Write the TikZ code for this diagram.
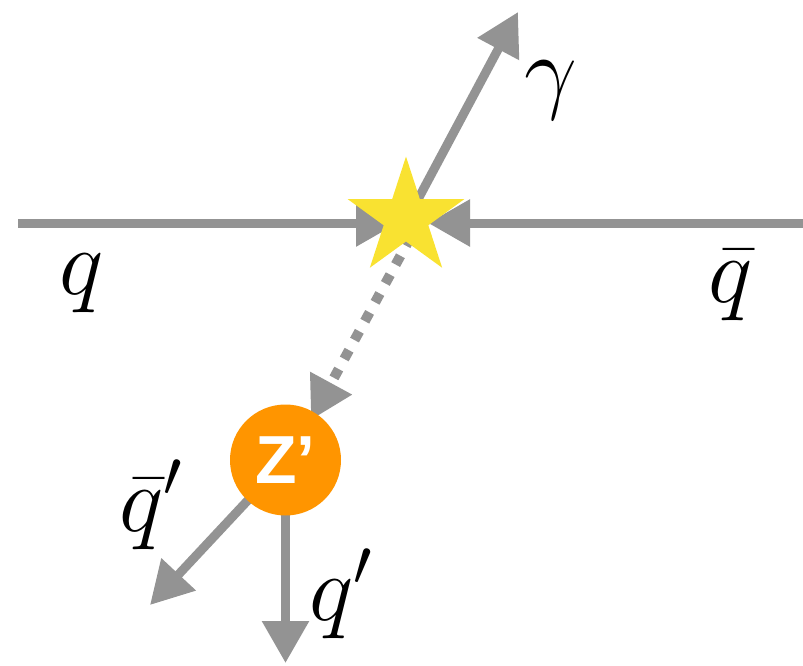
\RequirePackage{fix-cm}
\documentclass[tikz,border=0pt]{standalone}
\usepackage{fontspec}
\newfontfamily\zfont{Liberation Sans}
\usetikzlibrary{arrows.meta,shapes.geometric}
\definecolor{linegray}{RGB}{147,147,147}
\definecolor{staryellow}{RGB}{249,226,49}
\definecolor{zorange}{RGB}{255,149,0}
\tikzset{
  arr/.style={draw=linegray, line width=9pt, -{Triangle[length=42pt,width=45pt]}},
  dotarr/.style={arr, line width=10pt, dash pattern=on 10pt off 11.5pt},
  lbl/.style={anchor=base, inner sep=0pt, font=\fontsize{94}{100}\selectfont}
}
\begin{document}
\begin{tikzpicture}[x=1pt,y=-1pt]
\useasboundingbox (0,0) rectangle (803,665);
% coordinates
\coordinate (qL) at (18,223);
\coordinate (tipL) at (398,223);
\coordinate (qR) at (803,223);
\coordinate (tipR) at (428,223);
\coordinate (gTip) at (518,12);
\coordinate (dTip) at (311,420);
\coordinate (aTip) at (150,605);
\coordinate (bTip) at (285.5,663);
\coordinate (sc) at (406,218);
\coordinate (zc) at (285.5,460);
% lines
\draw[arr] (qL) -- (tipL);
\draw[arr] (qR) -- (tipR);
\draw[arr] ([xshift=2pt]sc) -- (gTip);
\draw[dotarr] ([xshift=15pt]sc) -- (dTip);
\draw[arr] (zc) -- (aTip);
\draw[arr] (zc) -- (bTip);
% star
\node[star, star points=5, star point ratio=2.618, minimum size=123pt, inner sep=0pt, fill=staryellow] (star) at (sc) {};
% Z' circle
\node[circle, fill=zorange, minimum size=111pt, inner sep=0pt, text=white, font=\zfont\bfseries\fontsize{68}{74}\selectfont] (zp) at (zc) {Z’};
% labels
\node[lbl] (lq) at (82,294) {$q$};
\node[lbl] (lqb) at (731,302) {$\bar q$};
\node[lbl] (lg) at (551,101) {$\gamma$};
\node[lbl] (lqbp) at (151,531) {$\bar q'$};
\node[lbl] (lqp) at (341,620) {$q'$};
\end{tikzpicture}
\end{document}
